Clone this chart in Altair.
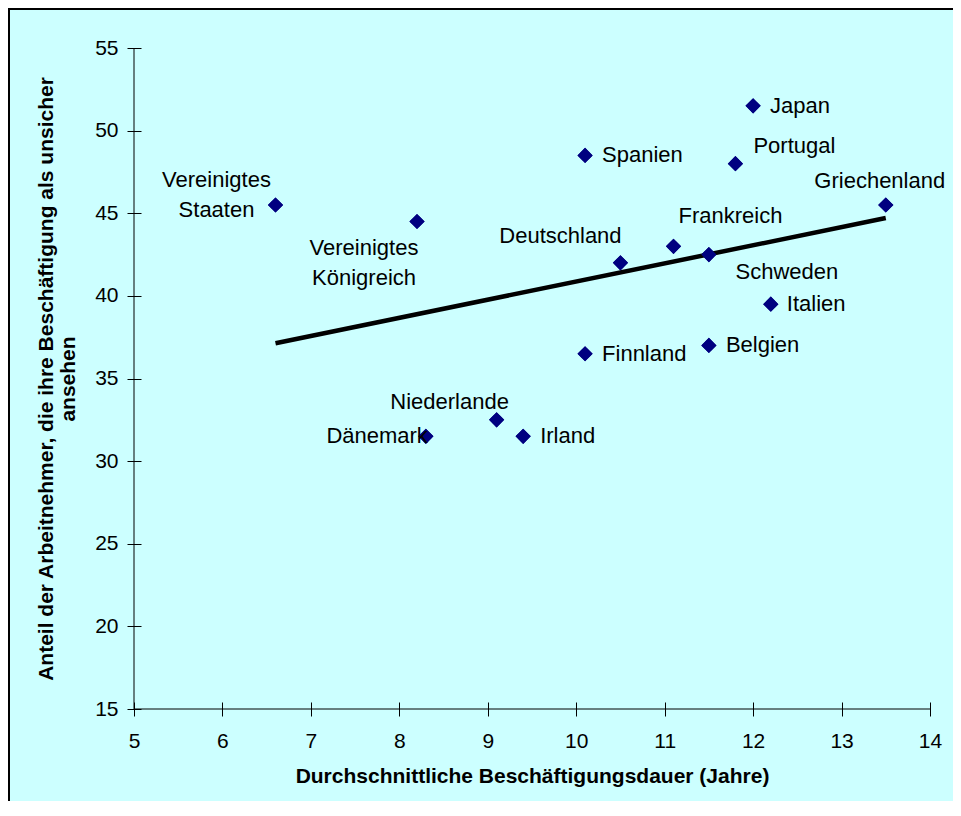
import altair as alt
import pandas as pd

# ---- data ----
laender = ["Vereinigtes Staaten", "Vereinigtes Königreich", "Spanien", "Japan", "Portugal",
           "Griechenland", "Frankreich", "Deutschland", "Schweden", "Italien",
           "Finnland", "Belgien", "Niederlande", "Irland", "Dänemark"]
beschriftung = ["Vereinigtes\nStaaten", "Vereinigtes\nKönigreich", "Spanien", "Japan", "Portugal",
                "Griechenland", "Frankreich", "Deutschland", "Schweden", "Italien",
                "Finnland", "Belgien", "Niederlande", "Irland", "Dänemark"]
dauer = [6.6, 8.2, 10.1, 12.0, 11.8, 13.5, 11.1, 10.5, 11.5, 12.2, 10.1, 11.5, 9.1, 9.4, 8.3]
unsicher = [45.5, 44.5, 48.5, 51.5, 48.0, 45.5, 43.0, 42.0, 42.5, 39.5, 36.5, 37.0, 32.5, 31.5, 31.5]
x_ticks = [5, 6, 7, 8, 9, 10, 11, 12, 13, 14]
y_ticks = [15, 20, 25, 30, 35, 40, 45, 50, 55]

x_title = "Durchschnittliche Beschäftigungsdauer (Jahre)"
y_title = ["Anteil der Arbeitnehmer, die ihre Beschäftigung als unsicher", "ansehen"]

# label placement (align, dx, dy) in pixels relative to the marker
label_pos = {
    "Vereinigtes Staaten": ("center", -59, -25),
    "Vereinigtes Königreich": ("center", -53, 26),
    "Spanien": ("left", 17, 0),
    "Japan": ("left", 17, 0),
    "Portugal": ("left", 18, -18),
    "Griechenland": ("center", -6, -24),
    "Frankreich": ("center", 57, -30),
    "Deutschland": ("center", -60, -27),
    "Schweden": ("center", 78, 17),
    "Italien": ("left", 16, 0),
    "Finnland": ("left", 17, 0),
    "Belgien": ("left", 17, 0),
    "Niederlande": ("center", -47, -18),
    "Irland": ("left", 17, 0),
    "Dänemark": ("right", 2, 0),
}

df = pd.DataFrame({"land": laender, "label": beschriftung, "dauer": dauer, "unsicher": unsicher})

FONT = "Liberation Sans"
W, H = 796, 661
PAD = {"left": 126, "top": 40, "right": 23, "bottom": 92}

xs = alt.Scale(domain=[x_ticks[0], x_ticks[-1]], nice=False, zero=False)
ys = alt.Scale(domain=[y_ticks[0], y_ticks[-1]], nice=False, zero=False)

x_axis = alt.Axis(values=x_ticks, format="d", grid=False, domain=False, offset=-7, tickSize=14,
                  tickColor="black", tickWidth=1, labelFont=FONT, labelFontSize=21,
                  labelColor="black", labelPadding=14, labelFlush=False, title=x_title,
                  titleFont=FONT, titleFontSize=21, titleFontWeight="bold", titleColor="black",
                  titleY=74, titleBaseline="middle")
y_axis = alt.Axis(values=y_ticks, format="d", grid=False, domain=False, offset=-7, tickSize=14,
                  tickColor="black", tickWidth=1, labelFont=FONT, labelFontSize=21,
                  labelColor="black", labelPadding=9, labelFlush=False, title=y_title,
                  titleFont=FONT, titleFontSize=21, titleFontWeight="bold", titleColor="black",
                  titleAngle=270, titleX=-89, titleY=H / 2, titleAlign="center",
                  titleBaseline="alphabetic", titleLineHeight=22)

X = alt.X("dauer:Q", scale=xs, axis=x_axis)
Y = alt.Y("unsicher:Q", scale=ys, axis=y_axis)

one = pd.DataFrame({"k": [0]})

# chart frame: only the left and top edges are visible in the reference
frame_left = alt.Chart(one).mark_rule(color="black", strokeWidth=2).encode(
    x=alt.value(-PAD["left"] + 1), y=alt.value(-PAD["top"]), y2=alt.value(H + PAD["bottom"])
)
frame_top = alt.Chart(one).mark_rule(color="black", strokeWidth=2).encode(
    y=alt.value(-PAD["top"] + 1), x=alt.value(-PAD["left"]), x2=alt.value(W + PAD["right"])
)

x_domain = alt.Chart(one).mark_rule(color="black", strokeWidth=1).encode(
    x=alt.datum(x_ticks[0]), x2=alt.datum(x_ticks[-1]), y=alt.datum(y_ticks[0])
)
y_domain = alt.Chart(one).mark_rule(color="black", strokeWidth=1).encode(
    x=alt.datum(x_ticks[0]), y=alt.datum(y_ticks[0]), y2=alt.datum(y_ticks[-1])
)

trend = alt.Chart(df).transform_regression("dauer", "unsicher").mark_line(
    color="black", strokeWidth=4.5
).encode(x=X, y=Y)

points = alt.Chart(df).mark_point(shape="diamond", filled=True, color="#000080",
                                   size=230, opacity=1).encode(x=X, y=Y)

texts = []
for name in laender:
    align, dx, dy = label_pos[name]
    texts.append(
        alt.Chart(df).transform_filter(alt.datum.land == name).mark_text(
            align=align, baseline="middle", dx=dx, dy=dy, font=FONT, fontSize=22,
            color="black", lineBreak="\n", lineHeight=30
        ).encode(x=X, y=Y, text="label:N")
    )

chart = alt.layer(points, frame_left, frame_top, x_domain, y_domain, trend, points, *texts).properties(
    width=W, height=H,
    padding=PAD,
    autosize=alt.AutoSizeParams(type="none"),
    background="#CCFFFF",
).configure_view(strokeWidth=0)

chart.save("out.html", embed_options={"renderer": "svg", "actions": False})
